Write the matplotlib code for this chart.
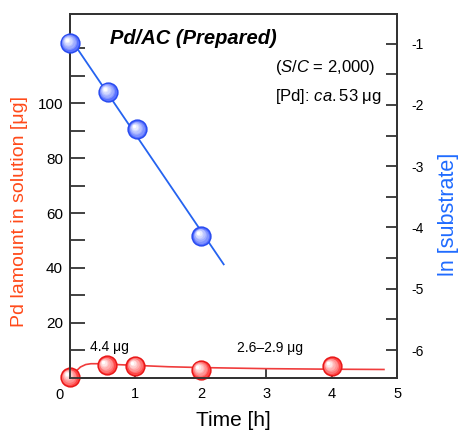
import numpy as np
import matplotlib
matplotlib.use("Agg")
import matplotlib.pyplot as plt
from matplotlib.colors import to_rgb
from matplotlib.transforms import ScaledTranslation

plt.rcParams['font.family'] = ['Liberation Sans', 'DejaVu Sans']
plt.rcParams['mathtext.fontset'] = 'custom'
plt.rcParams['mathtext.rm'] = 'Liberation Sans'
plt.rcParams['mathtext.it'] = 'Liberation Sans:italic'
plt.rcParams['axes.unicode_minus'] = False

# Pd amount in solution (left axis)
pd_time = [0.0, 0.56, 1.0, 2.0, 4.0]
pd_amount = [0.2, 4.5, 4.3, 2.8, 4.1]
# guide curve
guide_time = [0.0, 0.08, 0.16, 0.24, 0.32, 0.45, 0.7, 1.0, 1.5, 2.0, 3.0, 4.0, 4.8]
guide_amount = [0.2, 2.1, 3.9, 4.8, 5.1, 5.1, 4.8, 4.5, 4.0, 3.7, 3.3, 3.1, 3.0]

# ln[substrate] (right axis)
sub_time = [0.0, 0.58, 1.03, 2.01]
ln_sub = [-0.99, -1.79, -2.40, -4.14]
fit_end = 2.35

left_ticks = list(range(10, 130, 10))
left_labels = [str(v) if v % 20 == 0 and v <= 100 else '' for v in left_ticks]
right_ticks = list(np.arange(-6.0, -0.9, 0.5))
right_labels = [str(int(v)) if v == int(v) else '' for v in right_ticks]
x_ticks = [0, 1, 2, 3, 4, 5]
x_labels = ['', '1', '2', '3', '4', '5']

RED = '#ff4a1a'
BLUE = '#1f6bff'
SPINE = '#333333'

fig = plt.figure(figsize=(4.59, 4.30), dpi=100)
ax = fig.add_axes([0.1525, 0.1216, 0.7125, 0.847])
ax2 = ax.twinx()


def sphere(a, x, y, base, edge):
    # shaded ball: stack of shrinking, lighter discs shifted to the upper left
    a.plot(x, y, 'o', ms=13.5, mfc=base, mec=edge, mew=1.1, zorder=5, clip_on=False)
    c0 = np.array(to_rgb(base))
    steps = 6
    for i in range(1, steps + 1):
        f = i / steps
        col = c0 + (1 - c0) * f ** 0.8
        size = 12.5 * (1 - 0.8 * f)
        shift = 2.4 * f / 72
        off = a.transData + ScaledTranslation(-shift, shift, fig.dpi_scale_trans)
        a.plot(x, y, 'o', ms=size, mfc=col, mec='none', zorder=5 + i,
               transform=off, clip_on=False)


# red series
ax.plot(guide_time, guide_amount, color='#f03c3c', lw=1.2, zorder=3, clip_on=False)
sphere(ax, pd_time, pd_amount, '#ff4848', '#e81818')

# blue series with linear fit
k, b = np.polyfit(sub_time, ln_sub, 1)
tt = np.array([0.0, fit_end])
ax2.plot(tt, k * tt + b, color='#2563f0', lw=1.3, zorder=3)
sphere(ax2, sub_time, ln_sub, '#5a72ff', '#2a4cf0')

ax.set_xlim(0, 5)
ax.set_ylim(0, 132.7)
ax2.set_ylim(-6.45, -0.51)

ax.set_xticks(x_ticks)
ax.set_xticklabels(x_labels)
ax.set_yticks(left_ticks)
ax.set_yticklabels(left_labels)
ax2.set_yticks(right_ticks)
ax2.set_yticklabels(right_labels)

ax.tick_params(axis='y', direction='in', length=11, width=1.3, color=SPINE, pad=5, labelsize=11)
ax.tick_params(axis='x', direction='in', length=7, width=1.3, color=SPINE, pad=7, labelsize=10.5)
ax2.tick_params(axis='y', direction='in', length=8, width=1.3, color=SPINE, pad=10, labelsize=10)
ax.text(-0.033, -0.0475, '0', transform=ax.transAxes, ha='center', va='center', fontsize=10.5)

for a in (ax, ax2):
    for s in a.spines.values():
        s.set_color(SPINE)
        s.set_linewidth(1.3)

ax.set_xlabel('Time [h]', fontsize=15, va='center', ha='center')
ax.xaxis.set_label_coords(0.50, -0.118)
ax.set_ylabel('Pd lamount in solution [μg]', color=RED, fontsize=14, va='center', ha='center')
ax.yaxis.set_label_coords(-0.153, 0.455)
ax2.set_ylabel('ln [substrate]', color=BLUE, fontsize=15.5, va='center', ha='center')
ax2.yaxis.set_label_coords(1.158, 0.449)

ax.text(0.376, 0.930, 'Pd/AC (Prepared)', transform=ax.transAxes, ha='center', va='center',
        fontsize=14.5, fontweight='bold', style='italic')
ax.text(0.627, 0.853, r'($\mathit{S/C}$ = 2,000)', transform=ax.transAxes, ha='left', va='center',
        fontsize=12)
ax.text(0.627, 0.771, r'[Pd]: $\mathit{ca.}$53 μg', transform=ax.transAxes, ha='left', va='center',
        fontsize=12)
ax.text(0.061, 0.085, '4.4 μg', transform=ax.transAxes, ha='left', va='center', fontsize=10)
ax.text(0.510, 0.081, '2.6–2.9 μg', transform=ax.transAxes, ha='left', va='center', fontsize=10)

fig.savefig('out.png', dpi=100)
